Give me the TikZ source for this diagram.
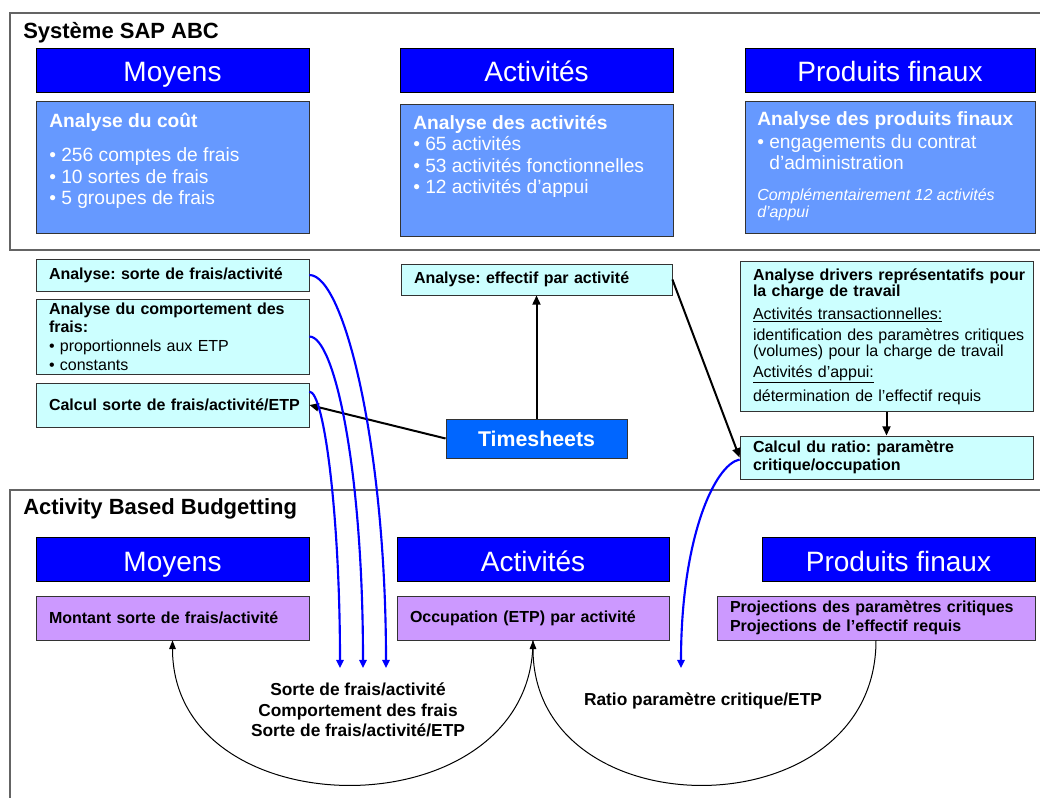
\documentclass[tikz,border=0pt]{standalone}
\usepackage{fontspec}
\setmainfont{Liberation Sans}
\usetikzlibrary{arrows.meta}
\definecolor{hdrblue}{RGB}{0,0,255}
\definecolor{boxblue}{RGB}{102,153,255}
\definecolor{tsblue}{RGB}{0,102,255}
\definecolor{lightcyan}{RGB}{204,255,255}
\definecolor{lilac}{RGB}{204,153,255}
\definecolor{framegray}{RGB}{100,100,100}
\frenchspacing

\begin{document}
\begin{tikzpicture}[x=0.75pt,y=-0.75pt,
  section/.style={draw=framegray,line width=1pt},
  sectitle/.style={anchor=west,inner sep=0pt,font=\bfseries\fontsize{16.5}{19}\selectfont},
  hdr/.style={draw=black,line width=0.6pt,fill=hdrblue,text=white,inner sep=0pt,
    minimum height=33pt,text height=18pt,text depth=0pt,font=\fontsize{21}{24}\selectfont},
  panel/.style={draw=black!80,line width=0.6pt,fill=boxblue,inner sep=0pt,minimum height=99pt},
  paneltext/.style={anchor=north west,align=left,text=white,inner sep=0pt,
    font=\fontsize{14.4}{16.1}\selectfont},
  note/.style={draw=black!80,line width=0.6pt,fill=lightcyan,align=left,inner xsep=9.75pt,
    inner ysep=0pt,text width=185.25pt,font=\bfseries\fontsize{12}{14}\selectfont},
  budget/.style={note,fill=lilac},
  tsbox/.style={draw=black!80,line width=0.6pt,fill=tsblue,text=white,minimum width=135.75pt,
    minimum height=29.25pt,font=\bfseries\fontsize{16}{18}\selectfont},
  lbl/.style={align=center,font=\bfseries\fontsize{13}{15.4}\selectfont},
  feed/.style={draw=blue,line width=1.6pt,-{Triangle[length=6pt,width=5.5pt]}},
  link/.style={line width=1.5pt,-{Triangle[length=7pt,width=6pt]}},
  cyc/.style={line width=0.75pt,-{Triangle[length=6.5pt,width=5pt]}}]
\clip (0,0) rectangle (1040,798);

\draw[section] (10,13) rectangle (1046,250);
\draw[section] (10,490) rectangle (1046,805);
\node[sectitle] (sapTitle) at (23,33) {Système SAP ABC};
\node[sectitle] (abbTitle) at (23,509) {Activity Based Budgetting};

\node[hdr,minimum width=204.75pt] (sapMoy) at (172.5,70) {Moyens};
\node[hdr,minimum width=204.75pt] (sapAct) at (536.5,70) {Activités};
\node[hdr,minimum width=217.5pt] (sapProd) at (890,70) {Produits finaux};

\node[panel,minimum width=204.75pt] (sapMoyBox) at (172.5,167) {};
\node[panel,minimum width=204.75pt] (sapActBox) at (536.5,170.5) {};
\node[panel,minimum width=217.5pt] (sapProdBox) at (890,167) {};
\node[paneltext] (sapMoyTxt) at (49,113) {\textbf{Analyse du coût}\\[9.4pt]
  • 256 comptes de frais\\• 10 sortes de frais\\• 5 groupes de frais};
\node[paneltext] (sapActTxt) at (413,115) {\textbf{Analyse des activités}\\
  • 65 activités\\• 53 activités fonctionnelles\\• 12 activités d’appui};
\node[paneltext] (sapProdTxt) at (757,111) {\textbf{Analyse des produits finaux}\\[1.1pt]
  • engagements du contrat\\\phantom{• }d’administration\\[7pt]
  \fontsize{12}{13}\selectfont\itshape Complémentairement 12 activités\\[-3.3pt]
  \fontsize{12}{13}\selectfont\itshape d’appui};

\node[note,minimum height=24pt] (anaSorte) at (172.5,275) {\mbox{Analyse: sorte de frais/activité}};
\node[note,minimum height=56.25pt] (anaComp) at (172.5,336.5) {\mbox{Analyse du comportement des}\\
  frais:\\\mdseries • proportionnels aux ETP\\• constants};
\node[note,minimum height=33pt] (calcEtp) at (172.5,405) {\mbox{Calcul sorte de frais/activité/ETP}};
\node[note,text width=183.75pt,minimum height=23.25pt] (anaEff) at (536.5,279.5) {\mbox{Analyse: effectif par activité}};
\node[tsbox] (timesheets) at (536.5,438.5) {Timesheets};
\node[note,text width=200.25pt,minimum height=112.5pt,
  font=\bfseries\fontsize{12}{12.5}\selectfont] (anaDrv) at (886.5,336.5) {\mbox{Analyse drivers représentatifs pour}\\
  la charge de travail\\[4.5pt]\mdseries\underline{Activités transactionnelles:}\\[3pt]
  \mbox{identification des paramètres critiques}\\\mbox{(volumes) pour la charge de travail}\\[3pt]
  \underline{Activités d’appui:}\\[3.5pt]\mbox{détermination de l’effectif requis}};
\node[note,text width=200.25pt,minimum height=32.25pt,
  font=\bfseries\fontsize{12}{13.5}\selectfont] (calcRatio) at (886.5,457.5) {Calcul du ratio: paramètre\\critique/occupation};

\node[hdr,minimum width=204.75pt] (abbMoy) at (172.5,559.5) {Moyens};
\node[hdr,minimum width=204pt] (abbAct) at (533,559.5) {Activités};
\node[hdr,minimum width=204.75pt] (abbProd) at (898.5,559.5) {Produits finaux};
\node[budget,minimum height=33pt] (abbMoyBox) at (172.5,618) {\mbox{Montant sorte de frais/activité}};
\node[budget,text width=184.5pt,minimum height=33pt] (abbActBox) at (533,618) {\mbox{Occupation (ETP) par activité}};
\node[budget,text width=219pt,minimum height=33pt] (abbProdBox) at (876,618) {\mbox{Projections des paramètres critiques}\\
  \mbox{Projections de l’effectif requis}};

\node[lbl] (lblMoy) at (358,710) {Sorte de frais/activité\\Comportement des frais\\Sorte de frais/activité/ETP};
\node[lbl] (lblRatio) at (703,701) {Ratio paramètre critique/ETP};

\coordinate (inSorte) at (386,668);
\coordinate (inComp) at (363,668);
\coordinate (inEtp) at (340,668);
\coordinate (inRatio) at (681,668);

\draw[link] (timesheets.north) -- (anaEff.south);
\draw[link] (timesheets.west) -- (calcEtp.east);
\draw[link] (anaEff.east) -- (calcRatio.west);
\draw[link] (anaDrv.south) -- (calcRatio.north);

\draw[feed] (anaSorte.east) .. controls +(35,0) and +(0,-220) .. (inSorte);
\draw[feed] (anaComp.east) .. controls +(25,0) and +(0,-200) .. (inComp);
\draw[feed] ([yshift=-6.75pt]calcEtp.north east) .. controls +(15,0) and +(0,-150) .. (inEtp);
\draw[feed] ([yshift=-1.5pt]calcRatio.west) .. controls +(-25,5) and +(0,-130) .. (inRatio);

\draw[cyc] (abbActBox.south) .. controls +(0,192) and +(0,192) .. (abbMoyBox.south);
\draw[cyc] (abbProdBox.south) .. controls +(0,192) and +(0,192) .. (abbActBox.south);
\end{tikzpicture}
\end{document}
